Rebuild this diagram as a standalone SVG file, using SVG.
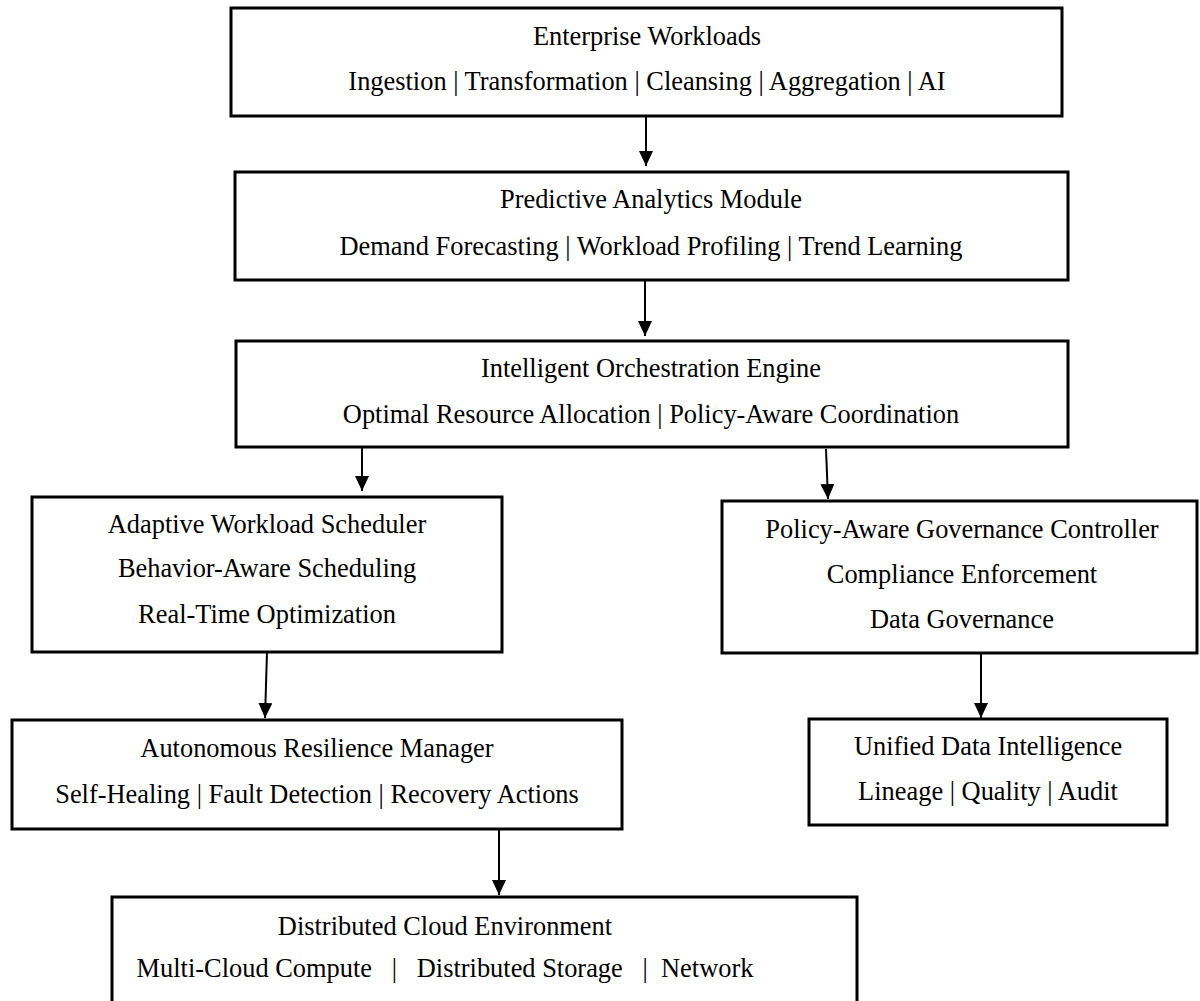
<svg xmlns="http://www.w3.org/2000/svg" width="1200" height="1001" viewBox="0 0 1200 1001">
<style>
.box{fill:#fff;stroke:#000;stroke-width:3}
.t{font-family:"Liberation Serif","Times New Roman",serif;font-size:26.4px;fill:#000;text-anchor:middle}
.c{stroke:#000;stroke-width:2;fill:none}
</style>
<defs>
<marker id="ah" markerUnits="userSpaceOnUse" markerWidth="15" markerHeight="14" viewBox="0 0 15 14" refX="15" refY="7" orient="auto">
<path d="M0,0 L15,7 L0,14 z" fill="#000"/>
</marker>
</defs>
<rect width="1200" height="1001" fill="#fff"/>
<g id="connectors">
<line class="c" x1="646" y1="116" x2="646" y2="166" marker-end="url(#ah)"/>
<line class="c" x1="645" y1="280" x2="645" y2="336" marker-end="url(#ah)"/>
<line class="c" x1="362" y1="447" x2="362" y2="491" marker-end="url(#ah)"/>
<line class="c" x1="826" y1="449" x2="828" y2="499" marker-end="url(#ah)"/>
<line class="c" x1="267" y1="652" x2="265" y2="718" marker-end="url(#ah)"/>
<line class="c" x1="981" y1="653" x2="981" y2="718" marker-end="url(#ah)"/>
<line class="c" x1="499" y1="829" x2="499" y2="895" marker-end="url(#ah)"/>
</g>
<g id="n1"><rect class="box" x="231" y="8" width="831" height="108"/>
<text class="t" x="647" y="45">Enterprise Workloads</text>
<text class="t" x="647" y="90">Ingestion | Transformation | Cleansing | Aggregation | AI</text></g>
<g id="n2"><rect class="box" x="235" y="172" width="833" height="108"/>
<text class="t" x="651" y="208">Predictive Analytics Module</text>
<text class="t" x="651" y="255">Demand Forecasting | Workload Profiling | Trend Learning</text></g>
<g id="n3"><rect class="box" x="236" y="341" width="832" height="106"/>
<text class="t" x="651" y="377">Intelligent Orchestration Engine</text>
<text class="t" x="651" y="423">Optimal Resource Allocation | Policy-Aware Coordination</text></g>
<g id="n4"><rect class="box" x="32" y="497" width="470" height="155"/>
<text class="t" x="267" y="533">Adaptive Workload Scheduler</text>
<text class="t" x="267" y="577">Behavior-Aware Scheduling</text>
<text class="t" x="267" y="623">Real-Time Optimization</text></g>
<g id="n5"><rect class="box" x="722" y="501" width="475" height="152"/>
<text class="t" x="962" y="538">Policy-Aware Governance Controller</text>
<text class="t" x="962" y="583">Compliance Enforcement</text>
<text class="t" x="962" y="628">Data Governance</text></g>
<g id="n6"><rect class="box" x="12" y="720" width="610" height="109"/>
<text class="t" x="317" y="757">Autonomous Resilience Manager</text>
<text class="t" x="317" y="803">Self-Healing | Fault Detection | Recovery Actions</text></g>
<g id="n7"><rect class="box" x="809" y="719" width="358" height="106"/>
<text class="t" x="988" y="755">Unified Data Intelligence</text>
<text class="t" x="988" y="800">Lineage | Quality | Audit</text></g>
<g id="n8"><rect class="box" x="112" y="897" width="745" height="120"/>
<text class="t" x="445" y="935">Distributed Cloud Environment</text>
<text class="t" x="445" y="977" xml:space="preserve">Multi-Cloud Compute   |   Distributed Storage   |  Network</text></g>
</svg>
